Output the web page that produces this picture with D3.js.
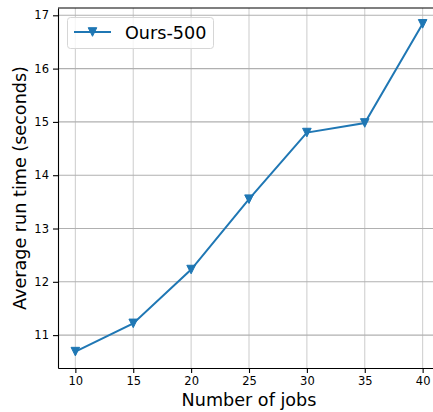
<!DOCTYPE html>
<html>
<head>
<meta charset="utf-8">
<script src="https://cdn.jsdelivr.net/npm/d3@7"></script>
<style>
  body { margin: 0; background: #fff; }
  text { font-family: "DejaVu Sans", sans-serif; fill: #000; }
</style>
</head>
<body>
<svg id="canvas" width="433" height="412"></svg>
<script>
const jobs = [10, 15, 20, 25, 30, 35, 40];
const runTime = [10.69, 11.22, 12.23, 13.55, 14.80, 14.98, 16.84];
const xTicks = [10, 15, 20, 25, 30, 35, 40];
const yTicks = [11, 12, 13, 14, 15, 16, 17];
const seriesName = 'Ours-500';

const svg = d3.select('#canvas');
const plotLeft = 58, plotRight = 440, plotTop = 8, plotBottom = 368;
const blue = '#1f77b4';

const x = d3.scaleLinear().domain([8.5, 41.5]).range([plotLeft, plotRight]);
const y = d3.scaleLinear().domain([10.383, 17.137]).range([plotBottom, plotTop]);

// grid
svg.append('g')
  .selectAll('line')
  .data(xTicks)
  .enter()
  .append('line')
  .attr('x1', (d) => x(d)).attr('x2', (d) => x(d))
  .attr('y1', plotTop).attr('y2', plotBottom)
  .attr('stroke', '#d0d0d0').attr('stroke-width', 1.1);

svg.append('g')
  .selectAll('line')
  .data(yTicks)
  .enter()
  .append('line')
  .attr('x1', plotLeft).attr('x2', plotRight)
  .attr('y1', (d) => y(d)).attr('y2', (d) => y(d))
  .attr('stroke', '#b0b0b0').attr('stroke-width', 1.1);

// axes
let xAxis = svg.append('g')
  .attr('transform', 'translate(0,' + plotBottom + ')')
  .call(d3.axisBottom(x).tickValues(xTicks).tickFormat(d3.format('d'))
    .tickSizeInner(5).tickSizeOuter(0).tickPadding(4));
let yAxis = svg.append('g')
  .attr('transform', 'translate(' + plotLeft + ',0)')
  .call(d3.axisLeft(y).tickValues(yTicks).tickFormat(d3.format('d'))
    .tickSizeInner(5).tickSizeOuter(0).tickPadding(4));

[xAxis, yAxis].forEach((g) => {
  g.select('.domain').attr('stroke', '#000').attr('stroke-width', 1.1);
  g.selectAll('.tick line').attr('stroke', '#000').attr('stroke-width', 1.1);
  g.selectAll('.tick text')
    .style('font-family', '"DejaVu Sans", sans-serif')
    .style('font-size', '11.5px')
    .attr('fill', '#000');
});

// top spine
svg.append('line')
  .attr('x1', plotLeft).attr('x2', plotRight)
  .attr('y1', plotTop).attr('y2', plotTop)
  .attr('stroke', '#000').attr('stroke-width', 1.1);

// series
const points = jobs.map((j, i) => [j, runTime[i]]);

svg.append('path')
  .datum(points)
  .attr('d', d3.line().x((d) => x(d[0])).y((d) => y(d[1])))
  .attr('fill', 'none')
  .attr('stroke', blue)
  .attr('stroke-width', 2);

const tri = 'M-4.3,-4.3 L4.3,-4.3 L0,4.3 Z';

svg.append('g')
  .selectAll('path')
  .data(points)
  .enter()
  .append('path')
  .attr('d', tri)
  .attr('transform', (d) => 'translate(' + x(d[0]) + ',' + y(d[1]) + ')')
  .attr('fill', blue)
  .attr('stroke', blue)
  .attr('stroke-width', 1);

// legend
const legend = svg.append('g');
legend.append('rect')
  .attr('x', 67.5).attr('y', 17.5)
  .attr('width', 146).attr('height', 31)
  .attr('rx', 3)
  .attr('fill', '#fff').attr('fill-opacity', 0.8)
  .attr('stroke', '#d6d6d6').attr('stroke-width', 1);
legend.append('line')
  .attr('x1', 74).attr('x2', 111)
  .attr('y1', 32).attr('y2', 32)
  .attr('stroke', blue).attr('stroke-width', 2);
legend.append('path')
  .attr('d', tri)
  .attr('transform', 'translate(92.5,32)')
  .attr('fill', blue).attr('stroke', blue);
legend.append('text')
  .attr('x', 125).attr('y', 38.5)
  .style('font-size', '17.6px')
  .text(seriesName);

// axis labels
svg.append('text')
  .attr('x', (plotLeft + plotRight) / 2)
  .attr('y', 406)
  .attr('text-anchor', 'middle')
  .style('font-size', '17.6px')
  .text('Number of jobs');

svg.append('text')
  .attr('transform', 'translate(26,' + (plotTop + plotBottom) / 2 + ') rotate(-90)')
  .attr('text-anchor', 'middle')
  .style('font-size', '17.6px')
  .text('Average run time (seconds)');
</script>
</body>
</html>
